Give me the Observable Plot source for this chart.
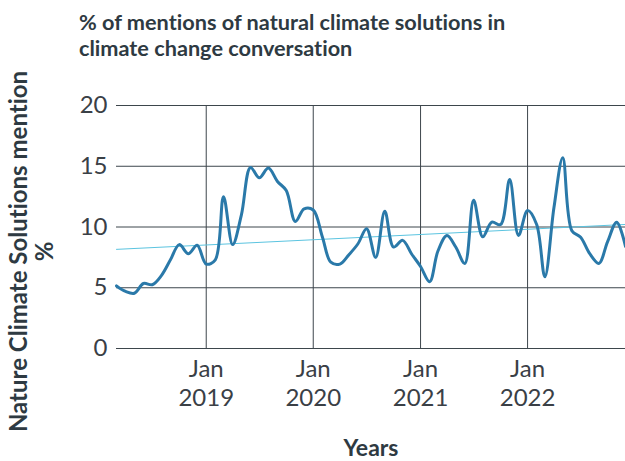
<!DOCTYPE html>
<html>
<head>
<meta charset="utf-8">
<script src="https://cdn.jsdelivr.net/npm/d3@7"></script>
<script src="https://cdn.jsdelivr.net/npm/@observablehq/plot@0.6"></script>
<style>
  html, body { margin: 0; padding: 0; background: #fff; }
  #wrap { width: 625px; height: 461px; position: relative; overflow: hidden; font-family: Lato, sans-serif; font-variant-ligatures: none; }
  #title { box-sizing: border-box; height: 65px; padding: 9px 0 0 79px; font: bold 21.7px/26.1px Lato, sans-serif; color: #2e3a42; font-variant-ligatures: none; }
  svg { display: block; font-variant-ligatures: none; }
</style>
</head>
<body>
<div id="wrap">
  <div id="title">% of mentions of natural climate solutions in<br>climate change conversation</div>
  <div id="chart"></div>
</div>
<script>
const months = [
  "2018-03","2018-04","2018-05","2018-06","2018-07","2018-08","2018-09","2018-10","2018-11","2018-12",
  "2019-01","2019-02","2019-03","2019-04","2019-05","2019-06","2019-07","2019-08","2019-09","2019-10","2019-11","2019-12",
  "2020-01","2020-02","2020-03","2020-04","2020-05","2020-06","2020-07","2020-08","2020-09","2020-10","2020-11","2020-12",
  "2021-01","2021-02","2021-03","2021-04","2021-05","2021-06","2021-07","2021-08","2021-09","2021-10","2021-11","2021-12",
  "2022-01","2022-02","2022-03","2022-04","2022-05","2022-06","2022-07","2022-08","2022-09","2022-10","2022-11","2022-12"
];
const mentionPct = [
  5.15, 4.7, 4.55, 5.35, 5.25, 6.0, 7.3, 8.55, 7.8, 8.5,
  6.95, 7.3, 12.5, 8.55, 11.0, 14.9, 14.05, 14.85, 13.75, 13.0, 10.45, 11.5,
  11.4, 9.2, 7.1, 6.95, 7.7, 8.6, 9.85, 7.5, 11.3, 8.35, 8.9, 7.8,
  6.75, 5.5, 8.0, 9.3, 8.35, 7.0, 12.2, 9.2, 10.4, 10.2, 13.9, 9.3,
  11.35, 10.2, 5.9, 11.6, 15.7, 9.7, 9.15, 7.8, 7.0, 8.8, 10.4, 8.4
];
const yTicks = [0, 5, 10, 15, 20];
const xTickYears = ["2019-01", "2020-01", "2021-01", "2022-01"];
const yLabel = "Nature Climate Solutions mention\n%";
const xLabel = "Years";

const data = months.map((m, i) => ({date: new Date(m + "-01T00:00:00Z"), value: mentionPct[i]}));
const xTicks = xTickYears.map(m => new Date(m + "-01T00:00:00Z"));

const textColor = "#3a4046";
const gridColor = "#3d464c";

const chart = Plot.plot({
  width: 625,
  height: 396,
  marginTop: 40,
  marginBottom: 113,
  marginLeft: 116,
  marginRight: 0,
  style: {fontFamily: "Lato, sans-serif", background: "#fff", overflow: "visible"},
  x: {type: "utc", domain: d3.extent(data, d => d.date)},
  y: {domain: [0, 20]},
  marks: [
    Plot.gridY(yTicks, {stroke: gridColor, strokeOpacity: 1}),
    Plot.gridX(xTicks, {stroke: gridColor, strokeOpacity: 1}),
    Plot.axisY(yTicks, {tickSize: 0, tickPadding: 9, fontSize: 24, fill: textColor, label: null}),
    Plot.axisX(xTicks, {
      tickSize: 0, tickPadding: 8, fontSize: 24, fill: textColor, label: null,
      lineHeight: 1.2,
      tickFormat: d => "Jan\n" + d.getUTCFullYear()
    }),
    Plot.linearRegressionY(data, {x: "date", y: "value", stroke: "#5bc4e0", strokeWidth: 1, ci: 0}),
    Plot.line(data, {x: "date", y: "value", curve: "catmull-rom", stroke: "#2a79a9", strokeWidth: 3}),
    Plot.text([xLabel], {frameAnchor: "bottom", dy: 100, lineAnchor: "middle", fontSize: 23, fontWeight: "bold", fill: "#2e3a42"}),
    Plot.text([yLabel], {frameAnchor: "left", dx: -107, dy: 24.5, rotate: -90, textAnchor: "middle", lineAnchor: "top", lineHeight: 1.05, fontSize: 24, fontWeight: "bold", fill: "#2e3a42"})
  ]
});
document.getElementById("chart").appendChild(chart);
</script>
</body>
</html>
